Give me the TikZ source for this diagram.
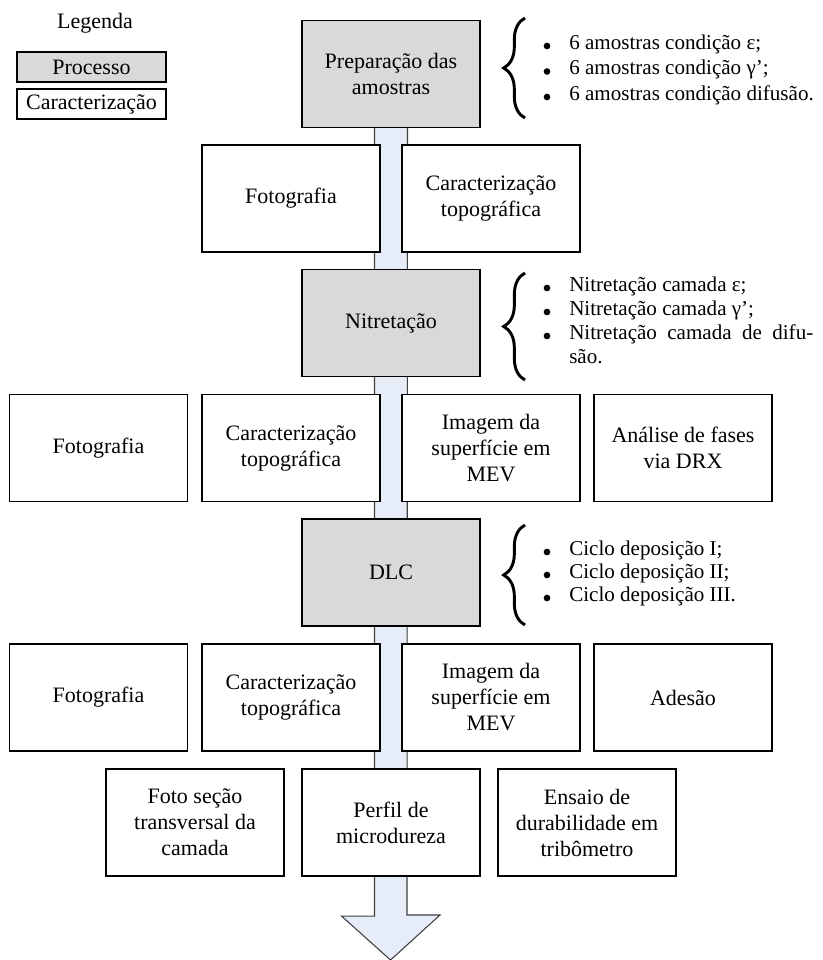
\documentclass[tikz,border=0pt]{standalone}
\usepackage{fontspec}
\setmainfont{Liberation Serif}
\usetikzlibrary{calc}
\usetikzlibrary{backgrounds}
\usetikzlibrary{decorations.pathreplacing}
\definecolor{procgray}{RGB}{217,217,217}
\definecolor{shaftblue}{RGB}{230,237,248}
\definecolor{edgegray}{RGB}{64,64,64}
\tikzset{
 every node/.style={font=\fontsize{16.5}{19.5}\selectfont},
 cbox/.style={draw=black, fill=white, line width=0.8pt, align=center, minimum width=133.5pt, minimum height=80.25pt, inner sep=2pt},
 pbox/.style={cbox, fill=procgray},
 lbox/.style={draw=black, line width=0.8pt, minimum width=111.75pt, minimum height=22.5pt, inner sep=0pt},
 item/.style={anchor=west, inner sep=0pt, text height=0.75em, text depth=0.25em, font=\fontsize{15.8}{19}\selectfont},
 dot/.style={circle, fill=black, inner sep=0pt, minimum size=5pt},
 curly/.style={decorate, decoration={brace, amplitude=16pt}, line width=2.2pt},
}
\begin{document}
\begin{tikzpicture}[x=0.75pt,y=-0.75pt]
\useasboundingbox (0,0) rectangle (822,960);
% legend
\node (leg) at (95,23) {Legenda};
\node[lbox, fill=procgray] (legP) at (91.5,67) {Processo};
\node[lbox, fill=white] (legC) at (91.5,104) {Caracterização};
% process steps
\node[pbox] (prep) at (391,74) {Preparação das\\amostras};
\node[pbox] (nitr) at (391,323) {Nitretação};
\node[pbox] (dlc) at (391,572.5) {DLC};
% characterizations
\node[cbox] (fotoA) at (291,198.5) {Fotografia};
\node[cbox] (topoA) at (491,198.5) {Caracterização\\topográfica};
\foreach \r/\y in {B/448,C/697.5} {
 \node[cbox] (foto\r) at (98.5,\y) {Fotografia};
 \node[cbox] (topo\r) at (291,\y) {Caracterização\\topográfica};
 \node[cbox] (mev\r) at (491,\y) {Imagem da\\superfície em\\MEV};
}
\node[cbox] (drx) at (683,448) {Análise de fases\\via DRX};
\node[cbox] (ades) at (683,697.5) {Adesão};
\node[cbox] (secao) at (195,822.5) {Foto seção\\transversal da\\camada};
\node[cbox] (perfil) at (391,822.5) {Perfil de\\microdureza};
\node[cbox] (tribo) at (587,822.5) {Ensaio de\\durabilidade em\\tribômetro};
% flow arrow
\coordinate (tip) at (390.5,960);
\begin{pgfonlayer}{background}
\draw[edgegray, fill=shaftblue, line width=0.8pt] ($(prep.south)+(-16.5,0)$) -- ++(0,788) -- ++(-33,0) -- (tip)
 -- ($(tip)+(49.5,-45)$) -- ++(-33,0) -- ($(prep.south)+(16.5,0)$);
\end{pgfonlayer}
% braces and lists
\draw[curly] (525,118) -- (525,18);
\draw[curly] (525,380) -- (525,273);
\draw[curly] (525,625) -- (525,525);
\foreach \y/\t [count=\i] in {46/6 amostras condição ε;,71.5/6 amostras condição γ’;,97/6 amostras condição difusão.} {
 \node[dot] (pd\i) at (547,\y) {};
 \node[item] (pt\i) at (569,\y) {\t};
}
\foreach \y/\t [count=\i] in {288/Nitretação camada ε;,312/Nitretação camada γ’;} {
 \node[dot] (nd\i) at (547,\y) {};
 \node[item] (nt\i) at (569,\y) {\t};
}
\node[dot] (nd3) at (547,336) {};
\node[item] (nt3) at (569,336) {\makebox[183pt][s]{Nitretação camada de difu-}};
\node[item] (nt4) at (569,360) {são.};
\foreach \y/\t [count=\i] in {552/Ciclo deposição I;,575/Ciclo deposição II;,598/Ciclo deposição III.} {
 \node[dot] (cd\i) at (547,\y) {};
 \node[item] (ct\i) at (569,\y) {\t};
}
\end{tikzpicture}
\end{document}
